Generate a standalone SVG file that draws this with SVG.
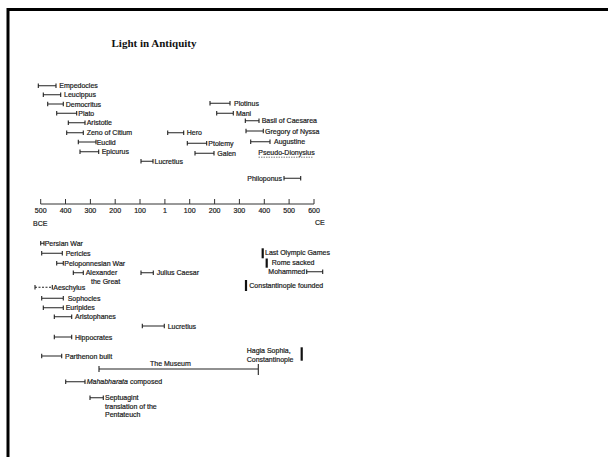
<svg xmlns="http://www.w3.org/2000/svg" width="608" height="457" viewBox="0 0 608 457">
<style>
text{font-family:"Liberation Sans",Arial,sans-serif;font-size:7px;fill:#1a1a1a;stroke:#1a1a1a;stroke-width:0.2}
.t{font-family:"Liberation Serif","Times New Roman",serif;font-size:11px;font-weight:bold;fill:#111;stroke:none}
.b{fill:none;stroke:#222;stroke-width:1.1}
.k{fill:none;stroke:#111;stroke-width:2.2}
.ax{fill:none;stroke:#333;stroke-width:1}
.n{text-anchor:middle}
</style>
<rect x="0" y="0" width="608" height="457" fill="#fff"/>
<path d="M8 460 V9.5 H612" fill="none" stroke="#000" stroke-width="3"/>
<text class="t" x="111.5" y="47">Light in Antiquity</text>

<g id="axis">
<path class="ax" d="M40.7 204 H314 M40.7 199 V204 M65.5 199 V204 M90.4 199 V204 M115.2 199 V204 M140 199 V204 M164.9 199 V204 M189.7 199 V204 M214.6 199 V204 M239.4 199 V204 M264.3 199 V204 M289.1 199 V204 M314 199 V204"/>
<text class="n" x="40.7" y="213">500</text>
<text class="n" x="65.5" y="213">400</text>
<text class="n" x="90.4" y="213">300</text>
<text class="n" x="115.2" y="213">200</text>
<text class="n" x="140" y="213">100</text>
<text class="n" x="164.9" y="213">1</text>
<text class="n" x="189.7" y="213">100</text>
<text class="n" x="214.6" y="213">200</text>
<text class="n" x="239.4" y="213">300</text>
<text class="n" x="264.3" y="213">400</text>
<text class="n" x="289.1" y="213">500</text>
<text class="n" x="314" y="213">600</text>
<text x="33" y="225.5">BCE</text>
<text x="315" y="224.5">CE</text>
</g>

<g id="connectors">
<path class="b" d="M38.3 85.7H56M38.3 83.5V87.9M56 83.5V87.9"/>
<path class="b" d="M43.3 94.7H60.7M43.3 92.5V96.9M60.7 92.5V96.9"/>
<path class="b" d="M47.7 104H63.3M47.7 101.8V106.2M63.3 101.8V106.2"/>
<path class="b" d="M56.7 113.3H76.7M56.7 111.1V115.5M76.7 111.1V115.5"/>
<path class="b" d="M68.3 122.7H85M68.3 120.5V124.9M85 120.5V124.9"/>
<path class="b" d="M66.7 132.7H83.3M66.7 130.5V134.9M83.3 130.5V134.9"/>
<path class="b" d="M78.3 142H96M78.3 139.8V144.2M96 139.8V144.2"/>
<path class="b" d="M80 151.7H98.7M80 149.5V153.9M98.7 149.5V153.9"/>
<path class="b" d="M141 161.2H153M141 159V163.4M153 159V163.4"/>
<path class="b" d="M167.7 132.7H183.7M167.7 130.5V134.9M183.7 130.5V134.9"/>
<path class="b" d="M187.3 143.3H206.7M187.3 141.1V145.5M206.7 141.1V145.5"/>
<path class="b" d="M195 153.3H214M195 151.1V155.5M214 151.1V155.5"/>
<path class="b" d="M210 103.3H230M210 101.1V105.5M230 101.1V105.5"/>
<path class="b" d="M216.7 113.3H233.3M216.7 111.1V115.5M233.3 111.1V115.5"/>
<path class="b" d="M245.3 120.7H259M245.3 118.5V122.9M259 118.5V122.9"/>
<path class="b" d="M246 131H263.3M246 128.8V133.2M263.3 128.8V133.2"/>
<path class="b" d="M250.7 141.7H270M250.7 139.5V143.9M270 139.5V143.9"/>
<path class="b" d="M284 178.3H300.7M284 176.1V180.5M300.7 176.1V180.5"/>

<path class="b" d="M40.7 243.3H44M40.7 241.1V245.5M44 241.1V245.5"/>
<path class="b" d="M41.7 253.3H62.3M41.7 251.1V255.5M62.3 251.1V255.5"/>
<path class="b" d="M56.7 263.3H63.3M56.7 261.1V265.5M63.3 261.1V265.5"/>
<path class="b" d="M73.3 272.7H83.3M73.3 270.5V274.9M83.3 270.5V274.9"/>
<path class="b" d="M141 272.7H153.3M141 270.5V274.9M153.3 270.5V274.9"/>
<path class="b" d="M35 287.3H52.3" stroke-dasharray="2 1.5"/>
<path class="b" d="M35 285.1V289.5M52.3 285.1V289.5"/>
<path class="b" d="M41.7 298.3H63.3M41.7 296.1V300.5M63.3 296.1V300.5"/>
<path class="b" d="M43.3 307.7H63.3M43.3 305.5V309.9M63.3 305.5V309.9"/>
<path class="b" d="M54.3 316.7H71.7M54.3 314.5V318.9M71.7 314.5V318.9"/>
<path class="b" d="M142.3 326H164.3M142.3 323.8V328.2M164.3 323.8V328.2"/>
<path class="b" d="M54.3 337H71.7M54.3 334.8V339.2M71.7 334.8V339.2"/>
<path class="b" d="M41.7 356H61.7M41.7 353.8V358.2M61.7 353.8V358.2"/>
<path class="b" d="M99 369H258.3M99 366V372M258.3 364V375"/>
<path class="b" d="M65.7 381.7H85M65.7 379.5V383.9M85 379.5V383.9"/>
<path class="b" d="M90 397.7H103.3M90 395.5V399.9M103.3 395.5V399.9"/>
<path class="b" d="M306.7 271.7H322.7M306.7 269.5V273.9M322.7 269.5V273.9"/>
<path class="k" d="M262.7 248.3V258.3"/>
<path class="k" d="M266.7 258.5V267.7"/>
<path class="k" d="M246 280V291"/>
<path class="k" d="M301.7 347.3V360.7"/>
</g>

<g id="empedocles"><text x="59.3" y="88.2">Empedocles</text></g>
<g id="leucippus"><text x="64" y="97.2">Leucippus</text></g>
<g id="democritus"><text x="65.7" y="106.5">Democritus</text></g>
<g id="plato"><text x="78.3" y="115.8">Plato</text></g>
<g id="aristotle"><text x="86.7" y="125.2">Aristotle</text></g>
<g id="zeno"><text x="86.7" y="135.2">Zeno of Citium</text></g>
<g id="euclid"><text x="96.7" y="144.5">Euclid</text></g>
<g id="epicurus"><text x="101.7" y="154.2">Epicurus</text></g>
<g id="lucretius1"><text x="154.5" y="163.7">Lucretius</text></g>
<g id="hero"><text x="186.7" y="135.2">Hero</text></g>
<g id="ptolemy"><text x="208.3" y="145.8">Ptolemy</text></g>
<g id="galen"><text x="217.3" y="155.8">Galen</text></g>
<g id="plotinus"><text x="234" y="105.8">Plotinus</text></g>
<g id="mani"><text x="236" y="115.8">Mani</text></g>
<g id="basil"><text x="261.7" y="123.2">Basil of Caesarea</text></g>
<g id="gregory"><text x="265" y="133.5">Gregory of Nyssa</text></g>
<g id="augustine"><text x="274" y="144.2">Augustine</text></g>
<g id="pseudo"><text x="258.3" y="155.2">Pseudo-Dionysius</text><path d="M258.5 157.2H313" stroke="#444" stroke-width="0.7" stroke-dasharray="1.5 1" fill="none"/></g>
<g id="philoponus"><text x="247.3" y="180.8">Philoponus</text></g>

<g id="persian"><text x="44.7" y="245.8">Persian War</text></g>
<g id="pericles"><text x="65.7" y="255.8">Pericles</text></g>
<g id="peloponnesian"><text x="64.3" y="265.8">Peloponnesian War</text></g>
<g id="alexander"><text x="85.7" y="275.2">Alexander</text><text x="91" y="283.5">the Great</text></g>
<g id="caesar"><text x="156.7" y="275.2">Julius Caesar</text></g>
<g id="aeschylus"><text x="53.3" y="289.8">Aeschylus</text></g>
<g id="sophocles"><text x="67.7" y="300.8">Sophocles</text></g>
<g id="euripides"><text x="65.7" y="310.2">Euripides</text></g>
<g id="aristophanes"><text x="75" y="319.2">Aristophanes</text></g>
<g id="lucretius2"><text x="167.7" y="328.5">Lucretius</text></g>
<g id="hippocrates"><text x="75" y="339.5">Hippocrates</text></g>
<g id="parthenon"><text x="65" y="358.5">Parthenon built</text></g>
<g id="museum"><text x="150" y="365.8">The Museum</text></g>
<g id="mahabharata"><text x="86.7" y="384.2"><tspan font-style="italic">Mahabharata</tspan> composed</text></g>
<g id="septuagint"><text x="105" y="400.2">Septuagint</text><text x="105" y="408.5">translation of the</text><text x="105" y="416.8">Pentateuch</text></g>
<g id="olympic"><text x="265" y="255.2">Last Olympic Games</text></g>
<g id="rome"><text x="271.7" y="264.8">Rome sacked</text></g>
<g id="mohammed"><text x="268.3" y="274.2">Mohammed</text></g>
<g id="constantinople"><text x="249.3" y="288.2">Constantinople founded</text></g>
<g id="hagia"><text x="246.7" y="352.5">Hagia Sophia,</text><text x="246.7" y="361.5">Constantinople</text></g>
</svg>
